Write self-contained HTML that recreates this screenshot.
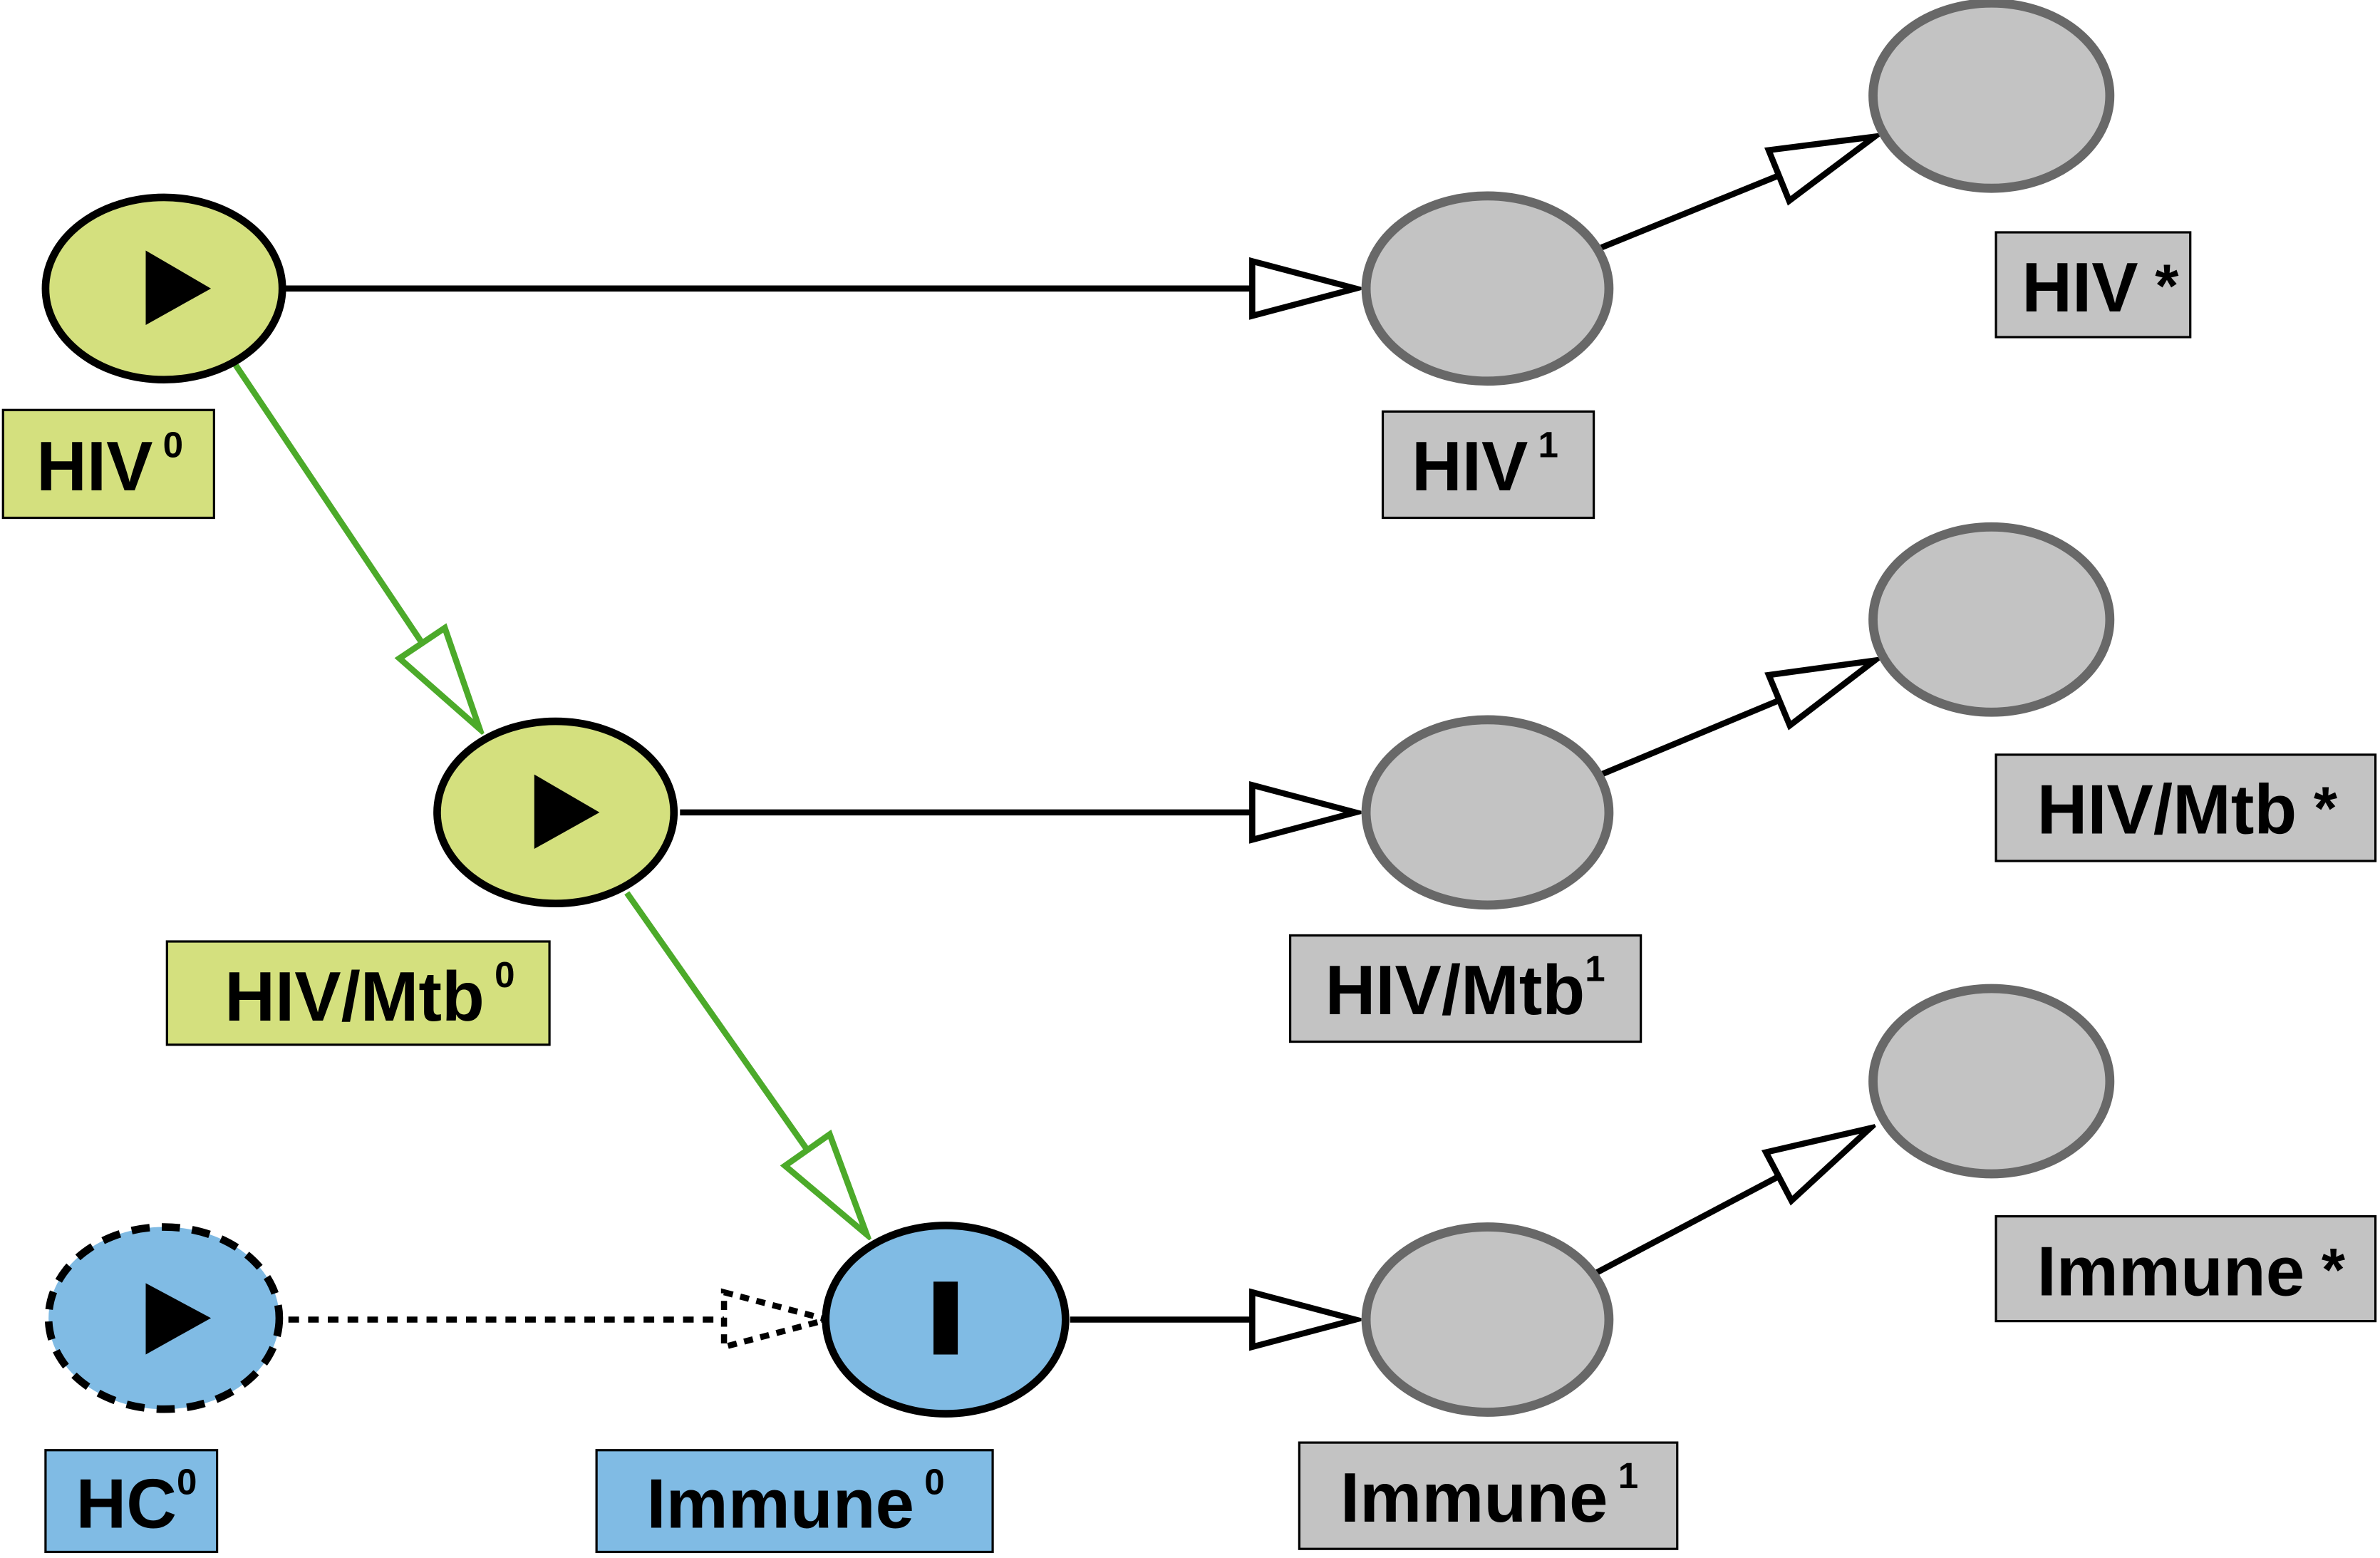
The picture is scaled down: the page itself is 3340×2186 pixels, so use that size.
<!DOCTYPE html>
<html><head><meta charset="utf-8"><style>html,body{margin:0;padding:0;background:#fff}svg{display:block}</style></head>
<body>
<svg width="3340" height="2186" viewBox="0 0 1568 1026" preserveAspectRatio="none" xmlns="http://www.w3.org/2000/svg" font-family="Liberation Sans, Arial, sans-serif" font-weight="bold">
<defs>
<marker id="ab" markerUnits="userSpaceOnUse" viewBox="-72 -22 76 44" markerWidth="76" markerHeight="44" refX="0" refY="0" orient="auto">
<polygon points="-68,-18 0,0 -68,18" fill="#fff" stroke="#000" stroke-width="4"/></marker>
<marker id="ag" markerUnits="userSpaceOnUse" viewBox="-72 -22 76 44" markerWidth="76" markerHeight="44" refX="0" refY="0" orient="auto">
<polygon points="-68,-18 0,0 -68,18" fill="#fff" stroke="#4caa2a" stroke-width="4"/></marker>
<marker id="ad" markerUnits="userSpaceOnUse" viewBox="-72 -22 76 44" markerWidth="76" markerHeight="44" refX="0" refY="0" orient="auto">
<polygon points="-68,-18 0,0 -68,18" fill="#fff" stroke="#000" stroke-width="4" stroke-dasharray="6,5"/></marker>
</defs>
<g stroke-width="4" fill="none">
<line x1="186" y1="190" x2="893" y2="190" stroke="#000" marker-end="url(#ab)"/>
<line x1="448" y1="535" x2="893" y2="535" stroke="#000" marker-end="url(#ab)"/>
<line x1="705" y1="869" x2="893" y2="869" stroke="#000" marker-end="url(#ab)"/>
<line x1="1055" y1="163" x2="1235" y2="90" stroke="#000" marker-end="url(#ab)"/>
<line x1="1055" y1="510" x2="1235" y2="435" stroke="#000" marker-end="url(#ab)"/>
<line x1="1052" y1="838" x2="1232" y2="743" stroke="#000" marker-end="url(#ab)"/>
<line x1="155" y1="240" x2="316" y2="480" stroke="#4caa2a" marker-end="url(#ag)"/>
<line x1="413" y1="588" x2="571" y2="813" stroke="#4caa2a" marker-end="url(#ag)"/>
<line x1="190" y1="869" x2="545" y2="869" stroke="#000" stroke-dasharray="7,6" marker-end="url(#ad)"/>
</g>
<g stroke-width="5">
<ellipse cx="108" cy="190" rx="78" ry="60" fill="#d4e07e" stroke="#000"/>
<ellipse cx="366" cy="535" rx="78" ry="60" fill="#d4e07e" stroke="#000"/>
<ellipse cx="108" cy="868" rx="76" ry="60" fill="#80bbe4" stroke="#000" stroke-dasharray="12,8"/>
<ellipse cx="623" cy="869" rx="79" ry="62" fill="#80bbe4" stroke="#000"/>
<g stroke-width="6">
<ellipse cx="980" cy="190" rx="80" ry="61" fill="#c3c3c3" stroke="#686868"/>
<ellipse cx="980" cy="535" rx="80" ry="61" fill="#c3c3c3" stroke="#686868"/>
<ellipse cx="980" cy="869" rx="80" ry="61" fill="#c3c3c3" stroke="#686868"/>
<ellipse cx="1312" cy="63" rx="78" ry="61" fill="#c3c3c3" stroke="#686868"/>
<ellipse cx="1312" cy="408" rx="78" ry="61" fill="#c3c3c3" stroke="#686868"/>
<ellipse cx="1312" cy="712" rx="78" ry="61" fill="#c3c3c3" stroke="#686868"/>
</g>
</g>
<polygon points="96,165 139,190 96,214" fill="#000"/>
<polygon points="352,510 395,535 352,559" fill="#000"/>
<polygon points="96,845 139,868 96,892" fill="#000"/>
<rect x="615" y="844" width="16" height="48" fill="#000"/>
<g stroke="#000" stroke-width="1.5">
<rect x="2" y="270" width="139" height="71" fill="#d4e07e"/>
<rect x="110" y="620" width="252" height="68" fill="#d4e07e"/>
<rect x="30" y="955" width="113" height="67" fill="#80bbe4"/>
<rect x="393" y="955" width="261" height="67" fill="#80bbe4"/>
<rect x="911" y="271" width="139" height="70" fill="#c3c3c3"/>
<rect x="850" y="616" width="231" height="70" fill="#c3c3c3"/>
<rect x="856" y="950" width="249" height="70" fill="#c3c3c3"/>
<rect x="1315" y="153" width="128" height="69" fill="#c3c3c3"/>
<rect x="1315" y="497" width="250" height="70" fill="#c3c3c3"/>
<rect x="1315" y="801" width="250" height="69" fill="#c3c3c3"/>
</g>
<g font-size="46" fill="#000">
<text x="24" y="323">HIV<tspan font-size="24" dy="-22"> 0</tspan></text>
<text x="148" y="672">HIV/Mtb<tspan font-size="24" dy="-22"> 0</tspan></text>
<text x="50" y="1006">HC<tspan font-size="24" dy="-22">0</tspan></text>
<text x="426" y="1006">Immune<tspan font-size="24" dy="-22"> 0</tspan></text>
<text x="930" y="323">HIV<tspan font-size="24" dy="-22"> 1</tspan></text>
<text x="873" y="668">HIV/Mtb<tspan font-size="24" dy="-22">1</tspan></text>
<text x="883" y="1002">Immune<tspan font-size="24" dy="-22"> 1</tspan></text>
<text x="1332" y="205">HIV<tspan font-size="40" dy="-3"> *</tspan></text>
<text x="1342" y="549">HIV/Mtb<tspan font-size="40" dy="-3"> *</tspan></text>
<text x="1342" y="853">Immune<tspan font-size="40" dy="-3"> *</tspan></text>
</g>
</svg>
</body></html>
